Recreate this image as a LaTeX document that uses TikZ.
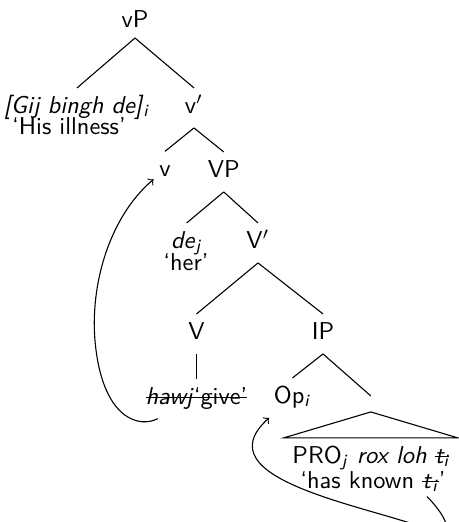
\documentclass[tikz,border=0pt]{standalone}
\usetikzlibrary{calc}
\renewcommand{\familydefault}{\sfdefault}
\tikzset{
  cat/.style={anchor=base, inner sep=0pt, outer sep=2pt, text height=8.4pt, text depth=4pt},
  gloss/.style={anchor=base, inner sep=0pt, outer sep=2pt},
  branch/.style={line width=0.45pt},
  move/.style={->, line width=0.45pt}
}
\newcommand{\subit}[1]{\textsubscript{\textit{#1}}}
% struck-through text: a rule across the middle of the lowercase letters
\newcommand{\strk}[1]{\setbox0\hbox{#1}\rlap{\raisebox{0.55ex}{\rule{\wd0}{0.45pt}}}\box0}
\begin{document}
\begin{tikzpicture}[x=0.41pt, y=-0.41pt]
  \useasboundingbox (0,0) rectangle (458,522);

  % categories and words (placed by baseline)
  \node[cat, text depth=2.4pt] (vP) at (135,27.3) {vP};
  \node[cat] (spec) at (77,113.3) {\textit{[Gij bingh de]}\subit{i}};
  \node[gloss] (g1) at (69,134.5) {‘His illness’};
  \node[cat] (vbar) at (194,113.3) {v$'$};
  \node[cat] (v) at (165,176.7) {v};
  \node[cat] (VP) at (223.7,177.3) {VP};
  \node[cat] (de) at (186.7,248.3) {\textit{de}\subit{j}};
  \node[gloss] (g2) at (186,270) {‘her’};
  \node[cat] (Vbar) at (258,248.3) {V$'$};
  \node[cat] (V) at (196.5,339.3) {V};
  \node[cat] (IP) at (323,339.3) {IP};
  \node[cat] (hawj) at (196.5,404) {\strk{\textit{hawj}‘give’}};
  \node[cat] (Op) at (292.5,403.3) {Op\subit{i}};
  \node[cat] (pro) at (370.8,463.3) {PRO\subit{j} \textit{rox loh \strk{t\textsubscript{i}}}};
  \node[gloss] (g3) at (373,488) {‘has known \strk{\textit{t}\subit{i}}’};

  % branches
  \draw[branch] (vP.south) -- (spec.north);
  \draw[branch] (vP.south) -- (vbar.north);
  \draw[branch] (vbar.south) -- (v.north);
  \draw[branch] (vbar.south) -- (VP.north);
  \draw[branch] (VP.south) -- (de.north);
  \draw[branch] (VP.south) -- (Vbar.north);
  \draw[branch] (Vbar.south) -- (V.north);
  \draw[branch] (Vbar.south) -- (IP.north);
  \draw[branch] (V.south) -- (V.south |- hawj.north);
  \draw[branch] (IP.south) -- (Op.north);

  % roof over the embedded clause
  \coordinate (apex) at ($(pro.north)+(0,-26)$);
  \coordinate (rooftop) at ($(apex)+(0,-16)$);
  \draw[branch] (IP.south) -- (rooftop);
  \draw[branch] (apex) -- ($(pro.north west)+(-4,0)$) -- ($(pro.north east)+(4,0)$) -- cycle;

  % head movement of hawj to v
  \coordinate (hstart) at ($(hawj.south west)+(17,0)$);
  \coordinate (vland) at ($(v.west)+(-1,8)$);
  \draw[move] (hstart) .. controls (140,428) and (105,420) .. (96,350)
                       .. controls (88,290) and (108,218) .. (vland);

  % operator movement from the trace to Op
  \coordinate (tstart) at ($(g3.south)+(54,0)$);
  \draw[move] (tstart) .. controls (450,520) and (455,540) .. (430,530)
                       .. controls (370,506) and (200,480) .. (Op.south west);
\end{tikzpicture}
\end{document}
